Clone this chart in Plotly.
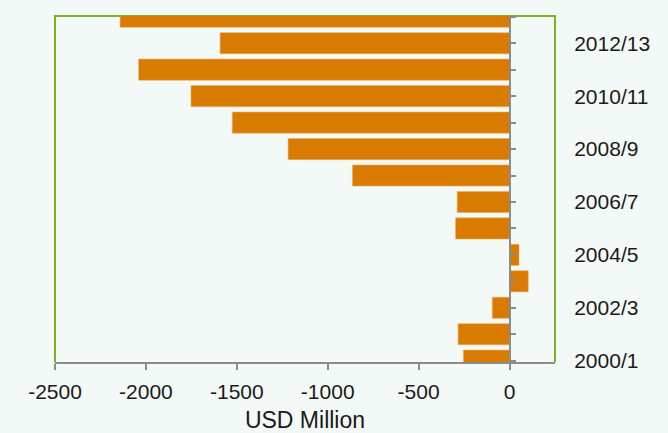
import plotly.graph_objects as go

# Fiscal years, oldest first, and the balance for each (USD million)
years = ["2000/1", "2001/2", "2002/3", "2003/4", "2004/5", "2005/6", "2006/7",
         "2007/8", "2008/9", "2009/10", "2010/11", "2011/12", "2012/13", "2013/14"]
balance = [-254, -283, -95, 103, 52, -297, -288,
           -864, -1218, -1525, -1752, -2040, -1592, -2142]

x_ticks = [-2500, -2000, -1500, -1000, -500, 0]
x_range = [-2500, 250]
y_range = [-0.05, 13.03]

positions = list(range(len(years)))
label_years = years[::2]
label_positions = positions[::2]

BG = "#f2f9f6"
BAR = "#d97b00"
AXIS = "#8c8c8c"
FRAME = "#7ab41e"
FONT = "Liberation Sans, Arial, sans-serif"

fig = go.Figure()
fig.add_trace(go.Bar(
    x=balance, y=positions, orientation="h",
    marker=dict(color=BAR, line=dict(color="#eab26a", width=0.6)),
    width=0.8, showlegend=False,
))
# helper trace so the label axis on the right is drawn
fig.add_trace(go.Scatter(x=[None], y=[None], yaxis="y2", mode="markers",
                         showlegend=False, hoverinfo="skip"))

zero_pos = (0 - x_range[0]) / (x_range[1] - x_range[0])

fig.update_layout(
    width=668, height=433,
    margin=dict(l=55, r=113, t=16, b=71),
    paper_bgcolor=BG, plot_bgcolor=BG,
    font=dict(family=FONT, size=21, color="#1a1a1a"),
    bargap=0.2,
    xaxis=dict(
        range=x_range, tickvals=x_ticks, ticktext=[str(v) for v in x_ticks],
        showgrid=False, zeroline=False, automargin=False,
        showline=True, linecolor=AXIS, linewidth=2,
        ticks="outside", ticklen=6, tickwidth=2, tickcolor=AXIS,
        ticklabelstandoff=4,
        title=dict(text="USD Million", font=dict(size=23), standoff=16),
        tickfont=dict(size=21),
    ),
    yaxis=dict(
        range=y_range, tickvals=positions, showticklabels=False,
        showgrid=False, zeroline=False, automargin=False,
        anchor="free", position=zero_pos, side="right",
        showline=True, linecolor=AXIS, linewidth=2,
        ticks="outside", ticklen=5, tickwidth=2, tickcolor=AXIS,
    ),
    yaxis2=dict(
        range=y_range, overlaying="y", anchor="x", side="right",
        tickvals=label_positions, ticktext=label_years,
        showgrid=False, zeroline=False, showline=False, automargin=False,
        ticks="outside", ticklen=14, tickcolor="rgba(0,0,0,0)",
        tickfont=dict(size=21),
    ),
    shapes=[dict(
        type="path", xref="paper", yref="paper",
        path="M 0,0 L 0,1 L 1,1 L 1,0",
        line=dict(color=FRAME, width=2), layer="below",
    )],
)

fig.write_html("out.html")
